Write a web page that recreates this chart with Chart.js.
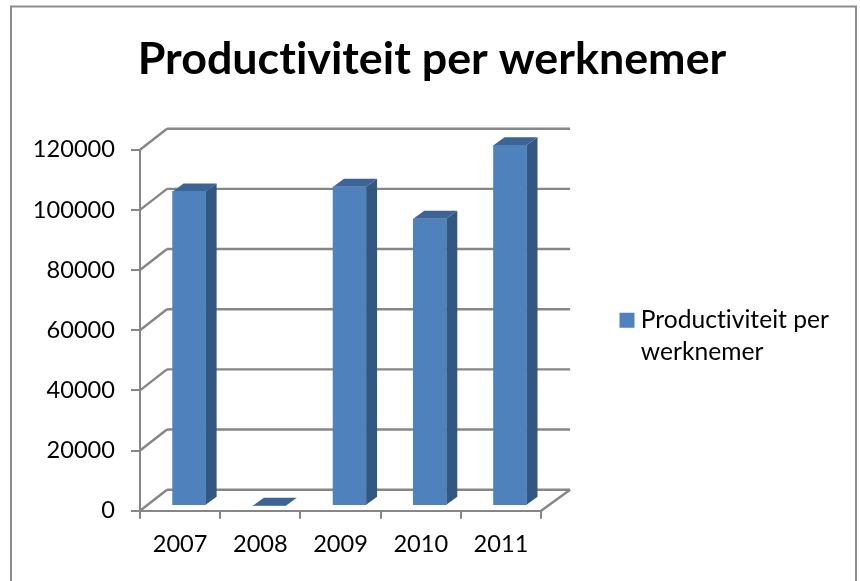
<!DOCTYPE html>
<html>
<head>
<meta charset="utf-8">
<style>html,body{margin:0;padding:0;background:#fff}canvas{display:block}</style>
<script src="https://cdn.jsdelivr.net/npm/chart.js@4/dist/chart.umd.min.js"></script>
</head>
<body>
<canvas id="c" width="860" height="581"></canvas>
<script>
const categories = ['2007', '2008', '2009', '2010', '2011'];
const seriesValues = [104500, 0, 106000, 95400, 119800];
const seriesName = 'Productiviteit per werknemer';
const legendLines = ['Productiviteit per', 'werknemer'];
const titleText = 'Productiviteit per werknemer';
const FONT = 'Lato, Carlito, sans-serif';
const AXIS = '#868686';

const WALL = {dx: 27, dy: -21, rightDx: 29};
const SHIFT = {dx: 9, dy: -5};
const DEPTH = {dx: 11, dy: -8};
const FACE = {top: '#3C6494', side: '#335780'};

function line(ctx, x1, y1, x2, y2) {
  ctx.beginPath(); ctx.moveTo(x1, y1); ctx.lineTo(x2, y2); ctx.stroke();
}
function poly(ctx, pts, fill) {
  ctx.beginPath();
  pts.forEach((p, i) => i ? ctx.lineTo(p[0], p[1]) : ctx.moveTo(p[0], p[1]));
  ctx.closePath(); ctx.fillStyle = fill; ctx.fill();
}

const frame3d = {
  id: 'frame3d',
  afterLayout(chart) {
    const lg = chart.legend;
    lg.left = 619; lg.right = 860; lg.width = 241;
    lg.top = 301.5; lg.bottom = 400; lg.height = 98.5;
    chart.titleBlock.left = 0;
    chart.titleBlock.right = 864;
  },
  beforeDraw(chart) {
    const ctx = chart.ctx;
    ctx.letterSpacing = '0.01px';
    ctx.save();
    ctx.fillStyle = '#fff';
    ctx.fillRect(0, 0, chart.width, chart.height);
    ctx.strokeStyle = '#8c8c8c';
    ctx.lineWidth = 2;
    ctx.strokeRect(11, 6.5, 845, 600);
    ctx.restore();
  },
  beforeDatasetsDraw(chart) {
    const ctx = chart.ctx, y = chart.scales.y, a = chart.chartArea;
    ctx.save();
    ctx.strokeStyle = AXIS;
    ctx.lineWidth = 2.4;
    y.ticks.forEach(t => {
      const py = y.getPixelForValue(t.value);
      line(ctx, a.left, py, a.left + WALL.dx, py + WALL.dy);
      line(ctx, a.left + WALL.dx, py + WALL.dy, a.right + WALL.rightDx, py + WALL.dy);
    });
    const p0 = y.getPixelForValue(0);
    line(ctx, a.right, p0, a.right + WALL.rightDx, p0 + WALL.dy);
    ctx.restore();

    ctx.save();
    ctx.translate(SHIFT.dx, SHIFT.dy);
    chart.getDatasetMeta(0).data.forEach(b => {
      const l = b.x - b.width / 2, r = b.x + b.width / 2;
      poly(ctx, [[r, b.y], [r + DEPTH.dx, b.y + DEPTH.dy], [r + DEPTH.dx, b.base + DEPTH.dy], [r, b.base]], FACE.side);
      poly(ctx, [[l, b.y], [l + DEPTH.dx, b.y + DEPTH.dy], [r + DEPTH.dx, b.y + DEPTH.dy], [r, b.y]], FACE.top);
    });
  },
  afterDatasetsDraw(chart) {
    chart.ctx.restore();
  }
};

new Chart(document.getElementById('c'), {
  type: 'bar',
  data: {
    labels: categories,
    datasets: [{
      label: seriesName,
      data: seriesValues,
      backgroundColor: '#4F81BD',
      borderWidth: 0,
      barThickness: 33
    }]
  },
  options: {
    responsive: false,
    animation: false,
    devicePixelRatio: 1,
    layout: {padding: {left: 0, right: 138.5, top: 0, bottom: 10}},
    plugins: {
      tooltip: {enabled: false},
      title: {
        display: true,
        text: titleText,
        color: '#000',
        font: {family: FONT, size: 44.8, weight: 'bold'},
        padding: {top: 33, bottom: 63}
      },
      legend: {
        display: true,
        position: 'right',
        align: 'start',
        labels: {
          boxWidth: 3,
          boxHeight: 15,
          usePointStyle: true,
          padding: 6.5,
          color: '#000',
          font: {family: FONT, size: 24.6, lineHeight: 1.3},
          generateLabels: () => [{text: legendLines, fillStyle: '#4F81BD', strokeStyle: '#4F81BD', lineWidth: 0, pointStyle: 'rect', datasetIndex: 0}]
        }
      }
    },
    scales: {
      x: {
        grid: {drawOnChartArea: false, drawTicks: true, tickLength: 8, color: AXIS, lineWidth: 2},
        border: {color: AXIS, width: 2},
        ticks: {color: '#000', font: {family: FONT, size: 23.6}, padding: 12, maxRotation: 0}
      },
      y: {
        min: 0, max: 120000,
        grid: {drawOnChartArea: false, drawTicks: true, tickLength: 9, color: AXIS, lineWidth: 2},
        border: {color: AXIS, width: 2},
        ticks: {stepSize: 20000, color: '#000', font: {family: FONT, size: 23.6}, padding: 16, callback: v => String(v)},
        afterFit(axis) { axis.width = 140; }
      }
    }
  },
  plugins: [frame3d]
});
</script>
</body>
</html>
